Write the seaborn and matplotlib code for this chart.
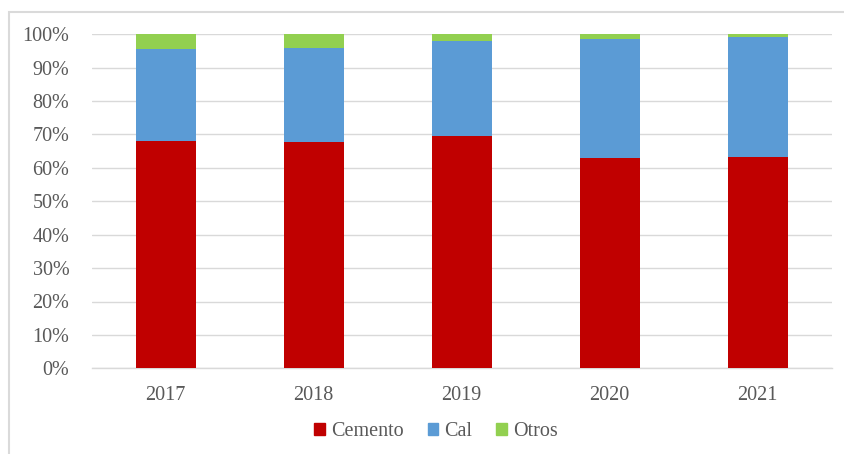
import matplotlib
matplotlib.use("Agg")
import matplotlib.pyplot as plt
import matplotlib.patches as mpatches
import seaborn as sns
import pandas as pd
from matplotlib.ticker import PercentFormatter, MultipleLocator

years = ["2017", "2018", "2019", "2020", "2021"]
cemento = [68.0, 67.7, 69.7, 62.9, 63.2]
cal = [27.7, 28.3, 28.4, 35.8, 36.1]
otros = [4.3, 4.0, 1.9, 1.3, 0.7]

series = ["Cemento", "Cal", "Otros"]
colors = {"Cemento": "#C00000", "Cal": "#5B9BD5", "Otros": "#92D050"}

df = pd.DataFrame({"Año": years, "Cemento": cemento, "Cal": cal, "Otros": otros})

sns.set_theme(style="white")
plt.rcParams["font.family"] = ["Liberation Serif", "DejaVu Serif"]

W, H = 844, 454
fig = plt.figure(figsize=(W / 100, H / 100), dpi=100)
ax = fig.add_axes([91.7 / W, 1 - 368.3 / H, 740 / W, 334 / H])

# stacked bars: each series drawn as its running cumulative total
bottom = pd.Series([0.0] * len(df))
for name in series:
    sns.barplot(x=df["Año"], y=df[name] + bottom, color=colors[name], width=0.405,
                ax=ax, saturation=1, edgecolor="none")
    bottom = bottom + df[name]

# lower segments drawn over the taller cumulative bars
for i, cont in enumerate(ax.containers):
    for p in cont:
        p.set_zorder(5 - i)

ax.set_ylim(0, 100)
ax.set_xlim(-0.5, len(years) - 0.5)
ax.yaxis.set_major_locator(MultipleLocator(10))
ax.yaxis.set_major_formatter(PercentFormatter(decimals=0))
ax.grid(axis="y", color="#D9D9D9", linewidth=1.0, zorder=0)
ax.set_axisbelow(True)
for s in ["top", "right", "left"]:
    ax.spines[s].set_visible(False)
ax.spines["bottom"].set_color("#D9D9D9")
ax.spines["bottom"].set_linewidth(1.0)
ax.set_xlabel("")
ax.set_ylabel("")
ax.tick_params(axis="both", length=0, labelsize=14.5, labelcolor="#595959")
ax.tick_params(axis="y", pad=16)
ax.tick_params(axis="x", pad=13)

handles = [mpatches.Patch(color=colors[n], label=n) for n in series]
fig.legend(handles=handles, loc="center", bbox_to_anchor=(436 / W, 1 - 432 / H),
           ncol=3, frameon=False, fontsize=14.5, handlelength=0.52, handleheight=0.52,
           handletextpad=0.3, columnspacing=1.2, labelcolor="#595959")

# chart border
fig.add_artist(mpatches.Rectangle((9 / W, -0.1), 1.2, 1 - 12 / H + 0.1,
                                  transform=fig.transFigure, fill=False,
                                  edgecolor="#DADADA", linewidth=1.5))

fig.savefig("out.png", dpi=100)
